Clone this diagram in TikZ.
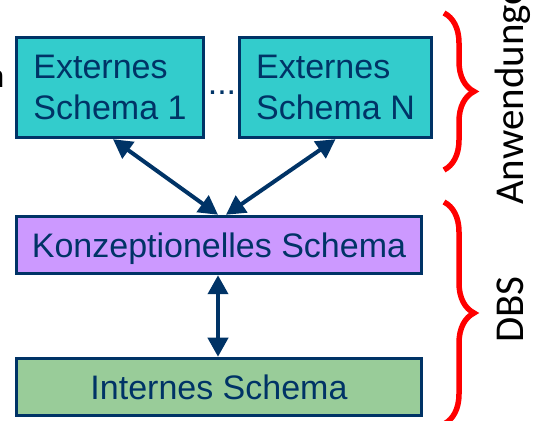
\documentclass[tikz,border=0pt]{standalone}
\usepackage{fontspec}
\setmainfont{Liberation Sans}
\newfontfamily\thinsans{Carlito}
\usetikzlibrary{arrows.meta,decorations.pathreplacing}
\definecolor{dblue}{HTML}{003366}
\definecolor{tealfill}{HTML}{33CCCC}
\definecolor{purplefill}{HTML}{CC99FF}
\definecolor{greenfill}{HTML}{99CC99}
\begin{document}
\begin{tikzpicture}[x=1pt,y=1pt,
  box/.style={draw=dblue, line width=3.5pt, inner sep=0pt, text=dblue,
    font=\fontsize{34}{41}\selectfont, align=left},
  onebox/.style={box, minimum width=405pt, minimum height=57pt,
    text height=24.3pt, text depth=0pt},
  link/.style={draw=dblue, line width=4pt,
    {Triangle[length=19pt,width=20pt]}-{Triangle[length=19pt,width=20pt]}},
  bracestyle/.style={draw=red, line width=5.5pt, decorate,
    decoration={brace, amplitude=30pt}},
  side/.style={font=\thinsans\fontsize{41}{41}\selectfont, rotate=90,
    anchor=base west, inner sep=0pt}]
\useasboundingbox (0,0) rectangle (540,420);
\clip (0,0) rectangle (540,420);

\node[anchor=base east, inner sep=0pt, font=\fontsize{31}{31}\selectfont] (cut) at (4.5,332) {n};

\node[box, fill=tealfill, minimum width=187pt, minimum height=100pt] (e1) at (110,332.5)
  {Externes\\Schema 1};
\node[box, fill=tealfill, minimum width=192pt, minimum height=100pt] (eN) at (335.5,332.5)
  {Externes\\Schema N};
\node[text=dblue, inner sep=0pt, anchor=base, font=\fontsize{34}{34}\selectfont] (dots) at (222,325) {...};

\node[onebox, fill=purplefill] (k) at (219,175) {Konzeptionelles Schema};
\node[onebox, fill=greenfill] (i) at (219,33) {Internes Schema};

\draw[link] ([xshift=3pt]e1.south) -- ([xshift=-1pt]k.north);
\draw[link] (eN.south) -- ([xshift=7pt]k.north);
\draw[link] ([xshift=-1pt]k.south) -- ([xshift=-1pt]i.north);

\coordinate (b1t) at (444,407);
\coordinate (b1b) at (444,250);
\coordinate (b2t) at (444,218);
\coordinate (b2b) at (444,-4);
\draw[bracestyle] (b1t) -- (b1b);
\draw[bracestyle] (b2t) -- (b2b);

\node[side] (anw) at (523,215) {Anwendungen};
\node[side] (dbs) at (523,77) {DBS};
\end{tikzpicture}
\end{document}
